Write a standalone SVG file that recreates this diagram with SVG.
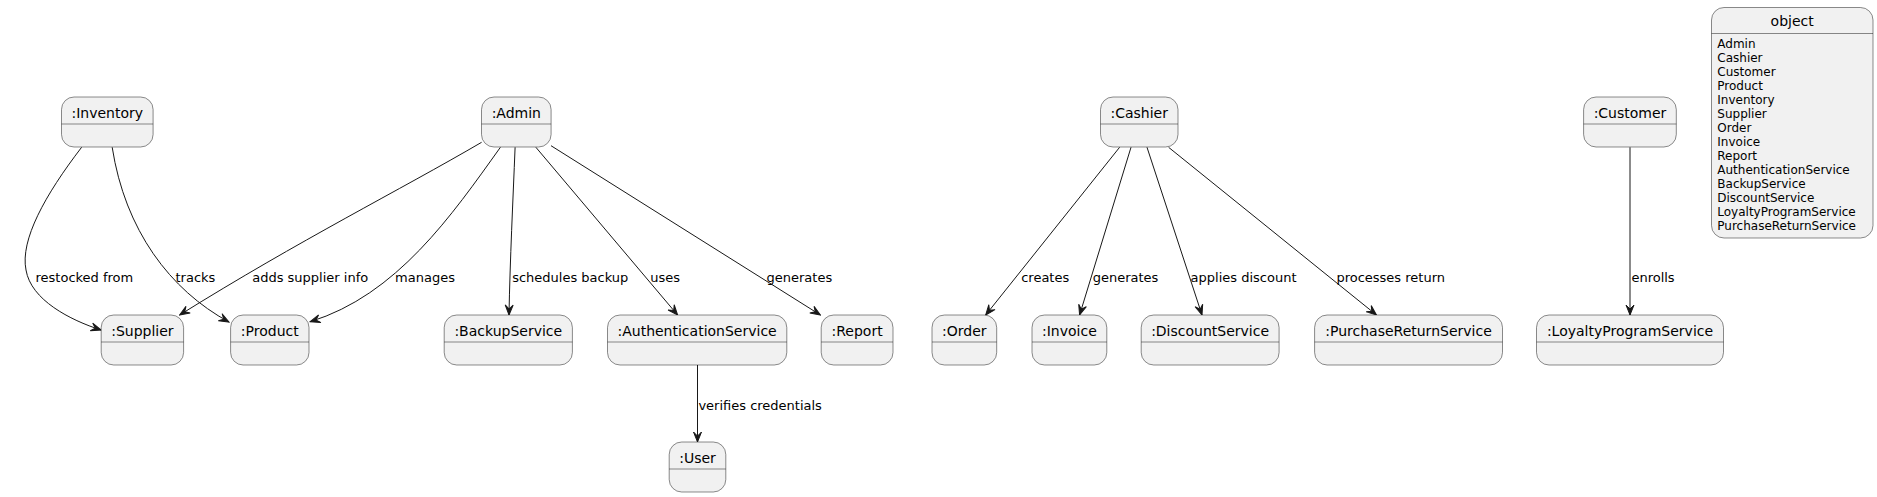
<svg xmlns="http://www.w3.org/2000/svg" width="1877" height="497" viewBox="0 0 1877 497">
<style>
.box{fill:#F1F1F1;stroke:#181818;stroke-width:0.5}
.sep{stroke:#181818;stroke-width:0.5}
.t{font-family:"DejaVu Sans",sans-serif;font-size:14px;fill:#000000;text-anchor:middle}
.f{font-family:"DejaVu Sans",sans-serif;font-size:12px;fill:#000000}
.lbl{font-family:"DejaVu Sans",sans-serif;font-size:13px;fill:#000000}
.e{fill:none;stroke:#181818;stroke-width:1}
</style>
<defs>
<marker id="arr" markerUnits="userSpaceOnUse" markerWidth="12" markerHeight="10" viewBox="-11 -5 12 10" refX="0" refY="0" orient="auto">
<path d="M0,0 L-10,-4 L-6,0 L-10,4 Z" fill="#181818" stroke="#181818" stroke-width="1" stroke-linejoin="miter"/>
</marker>
</defs>
<rect width="1877" height="497" fill="#FFFFFF"/>

<g id="connectors">
<path class="e" marker-end="url(#arr)" d="M81.6,147.3 C45,195 20,240 26,270 C31,300 70,320 101,330"/>
<path class="e" marker-end="url(#arr)" d="M112.2,147.3 C125,230 170,290 229,322"/>
<path class="e" marker-end="url(#arr)" d="M481.6,142.3 C400,190 300,240 179.6,315"/>
<path class="e" marker-end="url(#arr)" d="M500.4,147.3 C452,215 397,295 310.2,321.7"/>
<path class="e" marker-end="url(#arr)" d="M515.1,147.3 C513,200 510,260 509,315"/>
<path class="e" marker-end="url(#arr)" d="M535.9,147.3 L677.6,315"/>
<path class="e" marker-end="url(#arr)" d="M551,145.7 L820.4,315"/>
<path class="e" marker-end="url(#arr)" d="M1119.6,147.3 L985.7,315"/>
<path class="e" marker-end="url(#arr)" d="M1131,147.3 L1079.6,315"/>
<path class="e" marker-end="url(#arr)" d="M1147,147.3 L1202,315"/>
<path class="e" marker-end="url(#arr)" d="M1168.6,147.3 L1376.5,315"/>
<path class="e" marker-end="url(#arr)" d="M1630,147.3 L1630,315"/>
<path class="e" marker-end="url(#arr)" d="M697.5,365 L697.5,442"/>
<text class="lbl" x="35.5" y="282">restocked from</text>
<text class="lbl" x="175.5" y="282">tracks</text>
<text class="lbl" x="252.2" y="282">adds supplier info</text>
<text class="lbl" x="395.1" y="282">manages</text>
<text class="lbl" x="512.2" y="282">schedules backup</text>
<text class="lbl" x="650.2" y="282">uses</text>
<text class="lbl" x="766.5" y="282">generates</text>
<text class="lbl" x="1021.2" y="282">creates</text>
<text class="lbl" x="1092.7" y="282">generates</text>
<text class="lbl" x="1190.6" y="282">applies discount</text>
<text class="lbl" x="1336.4" y="282">processes return</text>
<text class="lbl" x="1631.4" y="282">enrolls</text>
<text class="lbl" x="698.4" y="409.5">verifies credentials</text>
</g>

<g id="inventory">
<rect class="box" x="61.5" y="97" width="91.6" height="50" rx="12.5" ry="12.5"/>
<line class="sep" x1="61.5" y1="124" x2="153.1" y2="124"/>
<text class="t" x="107.3" y="117.5">:Inventory</text>
</g>
<g id="admin">
<rect class="box" x="481.5" y="97" width="69.6" height="50" rx="12.5" ry="12.5"/>
<line class="sep" x1="481.5" y1="124" x2="551.1" y2="124"/>
<text class="t" x="516.3" y="117.5">:Admin</text>
</g>
<g id="cashier">
<rect class="box" x="1100.5" y="97" width="77.5" height="50" rx="12.5" ry="12.5"/>
<line class="sep" x1="1100.5" y1="124" x2="1178" y2="124"/>
<text class="t" x="1139.2" y="117.5">:Cashier</text>
</g>
<g id="customer">
<rect class="box" x="1583.6" y="97" width="92.7" height="50" rx="12.5" ry="12.5"/>
<line class="sep" x1="1583.6" y1="124" x2="1676.3" y2="124"/>
<text class="t" x="1630" y="117.5">:Customer</text>
</g>

<g id="supplier">
<rect class="box" x="101.2" y="315" width="82.4" height="50" rx="12.5" ry="12.5"/>
<line class="sep" x1="101.2" y1="342" x2="183.6" y2="342"/>
<text class="t" x="142.4" y="335.5">:Supplier</text>
</g>
<g id="product">
<rect class="box" x="230.6" y="315" width="78.4" height="50" rx="12.5" ry="12.5"/>
<line class="sep" x1="230.6" y1="342" x2="309" y2="342"/>
<text class="t" x="269.8" y="335.5">:Product</text>
</g>
<g id="backupservice">
<rect class="box" x="444.2" y="315" width="128.2" height="50" rx="12.5" ry="12.5"/>
<line class="sep" x1="444.2" y1="342" x2="572.4" y2="342"/>
<text class="t" x="508.3" y="335.5">:BackupService</text>
</g>
<g id="authenticationservice">
<rect class="box" x="607.5" y="315" width="179.3" height="50" rx="12.5" ry="12.5"/>
<line class="sep" x1="607.5" y1="342" x2="786.8" y2="342"/>
<text class="t" x="697.1" y="335.5">:AuthenticationService</text>
</g>
<g id="report">
<rect class="box" x="821.2" y="315" width="71.8" height="50" rx="12.5" ry="12.5"/>
<line class="sep" x1="821.2" y1="342" x2="893" y2="342"/>
<text class="t" x="857.1" y="335.5">:Report</text>
</g>
<g id="order">
<rect class="box" x="932" y="315" width="64.7" height="50" rx="12.5" ry="12.5"/>
<line class="sep" x1="932" y1="342" x2="996.7" y2="342"/>
<text class="t" x="964.3" y="335.5">:Order</text>
</g>
<g id="invoice">
<rect class="box" x="1032" y="315" width="74.8" height="50" rx="12.5" ry="12.5"/>
<line class="sep" x1="1032" y1="342" x2="1106.8" y2="342"/>
<text class="t" x="1069.4" y="335.5">:Invoice</text>
</g>
<g id="discountservice">
<rect class="box" x="1141.2" y="315" width="137.9" height="50" rx="12.5" ry="12.5"/>
<line class="sep" x1="1141.2" y1="342" x2="1279.1" y2="342"/>
<text class="t" x="1210.1" y="335.5">:DiscountService</text>
</g>
<g id="purchasereturnservice">
<rect class="box" x="1314.6" y="315" width="187.9" height="50" rx="12.5" ry="12.5"/>
<line class="sep" x1="1314.6" y1="342" x2="1502.5" y2="342"/>
<text class="t" x="1408.5" y="335.5">:PurchaseReturnService</text>
</g>
<g id="loyaltyprogramservice">
<rect class="box" x="1536.5" y="315" width="187" height="50" rx="12.5" ry="12.5"/>
<line class="sep" x1="1536.5" y1="342" x2="1723.5" y2="342"/>
<text class="t" x="1630" y="335.5">:LoyaltyProgramService</text>
</g>
<g id="user">
<rect class="box" x="669.2" y="442" width="56.6" height="50" rx="12.5" ry="12.5"/>
<line class="sep" x1="669.2" y1="469" x2="725.8" y2="469"/>
<text class="t" x="697.5" y="462.5">:User</text>
</g>

<g id="object">
<rect class="box" x="1711.5" y="7.5" width="161.5" height="230.5" rx="12.5" ry="12.5"/>
<line class="sep" x1="1711.5" y1="33.5" x2="1873" y2="33.5"/>
<text class="t" x="1792.2" y="25.5">object</text>
<text class="f" x="1717.3" y="48">Admin</text>
<text class="f" x="1717.3" y="62">Cashier</text>
<text class="f" x="1717.3" y="76">Customer</text>
<text class="f" x="1717.3" y="90">Product</text>
<text class="f" x="1717.3" y="104">Inventory</text>
<text class="f" x="1717.3" y="118">Supplier</text>
<text class="f" x="1717.3" y="132">Order</text>
<text class="f" x="1717.3" y="146">Invoice</text>
<text class="f" x="1717.3" y="160">Report</text>
<text class="f" x="1717.3" y="174">AuthenticationService</text>
<text class="f" x="1717.3" y="188">BackupService</text>
<text class="f" x="1717.3" y="202">DiscountService</text>
<text class="f" x="1717.3" y="216">LoyaltyProgramService</text>
<text class="f" x="1717.3" y="230">PurchaseReturnService</text>
</g>
</svg>
